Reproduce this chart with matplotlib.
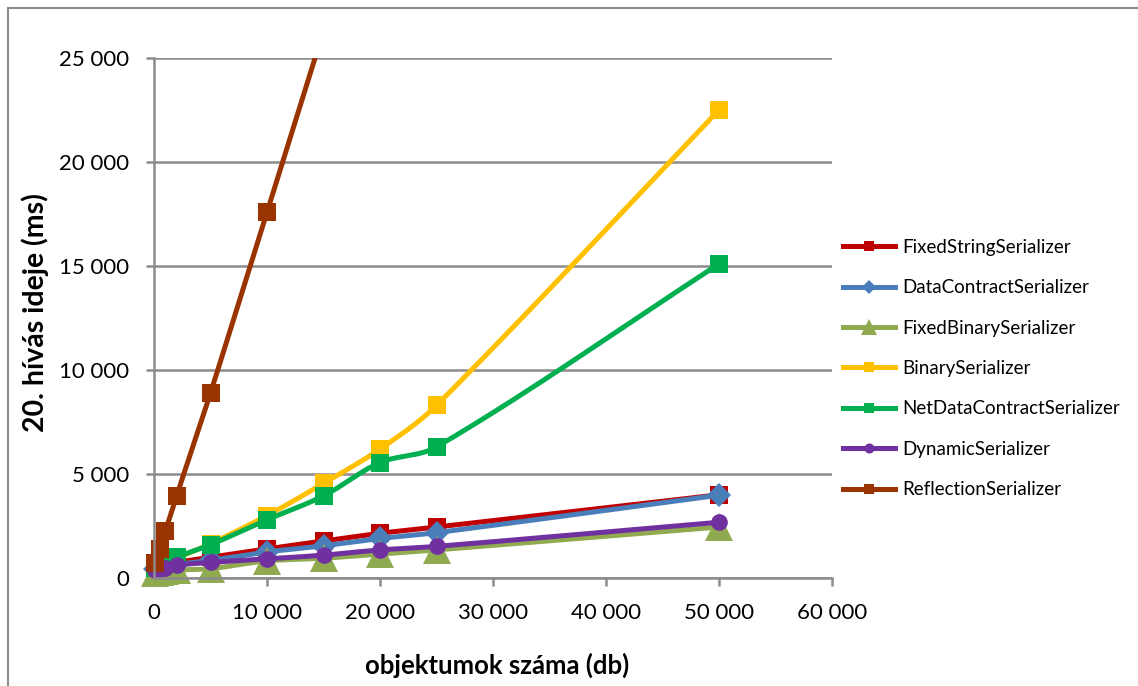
import numpy as np
import matplotlib
matplotlib.use('Agg')
import matplotlib.pyplot as plt
from matplotlib.ticker import FuncFormatter, MultipleLocator
from matplotlib.lines import Line2D

plt.rcParams['font.family'] = ['Lato', 'DejaVu Sans']

# objektumok száma
x_vals = [100, 500, 1000, 2000, 5000, 10000, 15000, 20000, 25000, 50000]

fixed_string = [550, 600, 650, 750, 1000, 1400, 1780, 2150, 2450, 4000]
data_contract = [450, 500, 550, 650, 850, 1250, 1550, 1900, 2180, 3980]
fixed_binary = [250, 280, 320, 380, 450, 820, 950, 1150, 1350, 2450]
binary = [500, 600, 700, 950, 1650, 3000, 4550, 6200, 8300, 22500]
net_data_contract = [500, 600, 700, 1000, 1600, 2800, 3950, 5550, 6300, 15100]
dynamic = [400, 450, 500, 620, 750, 920, 1100, 1350, 1520, 2680]
reflection_x = [100, 500, 1000, 2000, 5000, 10000, 15000]
reflection = [700, 1400, 2250, 3950, 8900, 17600, 26300]

names = ['FixedStringSerializer', 'DataContractSerializer', 'FixedBinarySerializer',
         'BinarySerializer', 'NetDataContractSerializer', 'DynamicSerializer',
         'ReflectionSerializer']
colors = ['#C00000', '#4A7EBB', '#8FAA4F', '#FFC000', '#00B050', '#7030A0', '#993300']
markers = ['s', 'D', '^', 's', 's', 'o', 's']
msizes = [13, 12, 20, 13, 13, 12, 13]

series = [(x_vals, fixed_string), (x_vals, data_contract), (x_vals, fixed_binary),
          (x_vals, binary), (x_vals, net_data_contract), (x_vals, dynamic),
          (reflection_x, reflection)]

XMAX = 60000
YMAX = 25000


def smooth(xs, ys, n=30):
    # excel-like smoothed line, tangents scaled by segment lengths
    # (done in screen-ish units so both axes count the same)
    sc = np.array([678.0 / XMAX, 520.0 / YMAX])
    p = np.column_stack([xs, ys]).astype(float) * sc
    L = np.hypot(*np.diff(p, axis=0).T)
    out = []
    for i in range(len(p) - 1):
        p1 = p[i]
        p2 = p[i + 1]
        if i > 0:
            d1 = (p2 - p[i - 1]) * L[i] / (L[i - 1] + L[i]) / 3
        else:
            d1 = (p2 - p1) / 3
        if i + 2 < len(p):
            d2 = (p[i + 2] - p1) * L[i] / (L[i] + L[i + 1]) / 3
        else:
            d2 = (p2 - p1) / 3
        c1 = p1 + d1
        c2 = p2 - d2
        t = np.linspace(0, 1, n)[:, None]
        seg = ((1 - t) ** 3) * p1 + 3 * ((1 - t) ** 2) * t * c1 + 3 * (1 - t) * t ** 2 * c2 + t ** 3 * p2
        out.append(seg)
    out = np.vstack(out) / sc
    return out[:, 0], out[:, 1]


fig = plt.figure(figsize=(11.38, 6.86), dpi=100)
ax = fig.add_axes([154 / 1138, 1 - 578 / 686, (832 - 154) / 1138, (578 - 58) / 686])

handles = []
for (xs, ys), name, c, m, ms in zip(series, names, colors, markers, msizes):
    sx, sy = smooth(xs, ys)
    ax.plot(sx, sy, color=c, lw=3.6, solid_capstyle='round')
    xs = np.array(xs)
    ys = np.array(ys)
    keep = ys <= YMAX
    ax.plot(xs[keep], ys[keep], linestyle='none', marker=m, ms=ms, color=c,
            markeredgewidth=0, clip_on=False)
    handles.append(Line2D([0], [0], color=c, lw=3.6, marker=m, ms=ms * 0.6,
                          markeredgewidth=0))

ax.set_xlim(0, XMAX)
ax.set_ylim(0, YMAX)
ax.xaxis.set_major_locator(MultipleLocator(10000))
ax.yaxis.set_major_locator(MultipleLocator(5000))
fmt = FuncFormatter(lambda v, p: '{:,.0f}'.format(v).replace(',', ' '))
ax.xaxis.set_major_formatter(fmt)
ax.yaxis.set_major_formatter(fmt)

ax.grid(axis='y', color='#8C8C8C', lw=1.8)
ax.set_axisbelow(True)
for s in ['top', 'right']:
    ax.spines[s].set_visible(False)
for s in ['left', 'bottom']:
    ax.spines[s].set_color('#8C8C8C')
    ax.spines[s].set_linewidth(1.8)
ax.tick_params(axis='both', colors='#8C8C8C', width=1.8, length=6, labelsize=16,
               labelcolor='black')
ax.tick_params(axis='x', pad=12)
ax.tick_params(axis='y', pad=12)

# axis titles
fig.text(497 / 1138, 1 - 665 / 686, 'objektumok száma (db)', fontsize=18.5,
         fontweight='bold', ha='center', va='center')
fig.text(35 / 1138, 1 - 313 / 686, '20. hívás ideje (ms)', fontsize=20.5,
         fontweight='bold', ha='center', va='center', rotation=90)

ax.legend(handles, names, loc='center left', bbox_to_anchor=(1.005, 0.403),
          frameon=False, fontsize=13.5, handlelength=2.8, labelspacing=1.25,
          handletextpad=0.35, borderaxespad=0)

# chart frame
fig.add_artist(Line2D([8 / 1138, 8 / 1138], [0, 1 - 8 / 686], color='#8C8C8C', lw=1.5))
fig.add_artist(Line2D([8 / 1138, 1], [1 - 8 / 686, 1 - 8 / 686], color='#8C8C8C', lw=1.5))

plt.savefig('out.png', dpi=100)
